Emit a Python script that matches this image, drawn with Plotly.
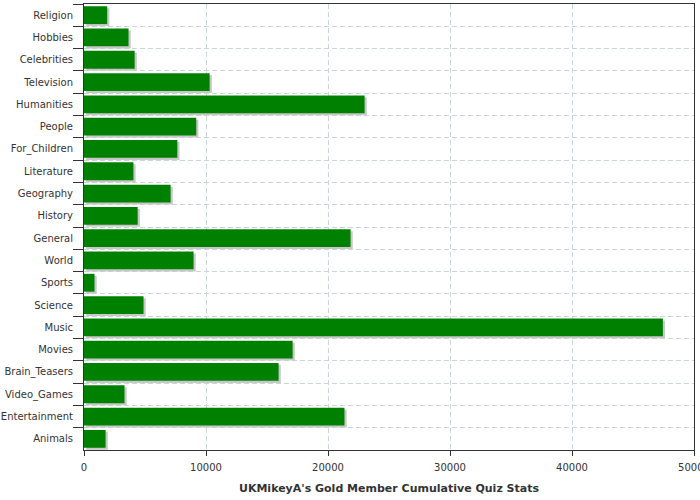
import plotly.graph_objects as go

categories = ["Religion", "Hobbies", "Celebrities", "Television", "Humanities", "People",
              "For_Children", "Literature", "Geography", "History", "General", "World",
              "Sports", "Science", "Music", "Movies", "Brain_Teasers", "Video_Games",
              "Entertainment", "Animals"]
values = [1900, 3650, 4150, 10300, 23000, 9200, 7650, 4050, 7100, 4400, 21850, 8980,
          860, 4880, 47450, 17100, 15950, 3320, 21350, 1770]
x_ticks = [0, 10000, 20000, 30000, 40000, 50000]
title_text = "UKMikeyA's Gold Member Cumulative Quiz Stats"

fig = go.Figure()
# drop shadow
fig.add_trace(go.Bar(
    y=categories, x=values, orientation="h", base=180,
    marker=dict(color="#c8c8c8", line=dict(width=0)),
    width=0.8, offset=-0.4 + 0.09, hoverinfo="skip", showlegend=False,
))
fig.add_trace(go.Bar(
    y=categories, x=values, orientation="h",
    marker=dict(color="#008000", line=dict(width=0)),
    width=0.8, offset=-0.4, showlegend=False,
))

fig.update_layout(
    width=700, height=500,
    margin=dict(l=84, r=6, t=4, b=50, autoexpand=False),
    paper_bgcolor="white", plot_bgcolor="white",
    barmode="overlay",
    font=dict(family="DejaVu Sans", size=10, color="#333333"),
)
fig.update_xaxes(
    range=[0, 50000], tickvals=x_ticks, ticktext=[str(v) for v in x_ticks],
    automargin=False, ticklabeloverflow="allow", ticklabelstandoff=3,
    showline=True, linecolor="#333333", linewidth=1, mirror=True,
    ticks="outside", ticklen=5, tickcolor="#333333",
    showgrid=True, gridcolor="#ccd5da", griddash="5px,3px", gridwidth=1,
    zeroline=False,
    title=dict(text="<b>" + title_text + "</b>", font=dict(size=11, color="#333333"), standoff=12),
)
fig.update_yaxes(
    type="category", categoryorder="array", categoryarray=categories,
    autorange="reversed", automargin=False, ticklabelstandoff=8,
    tickson="boundaries",
    showline=True, linecolor="#333333", linewidth=1, mirror=True,
    ticks="outside", ticklen=10, tickcolor="#333333",
    showgrid=True, gridcolor="#ccd5da", griddash="5px,3px", gridwidth=1,
    zeroline=False,
)

fig.write_html(
    "out.html",
    config={"displayModeBar": False},
    post_script="document.body.style.margin='0';document.body.style.overflow='hidden';",
)
